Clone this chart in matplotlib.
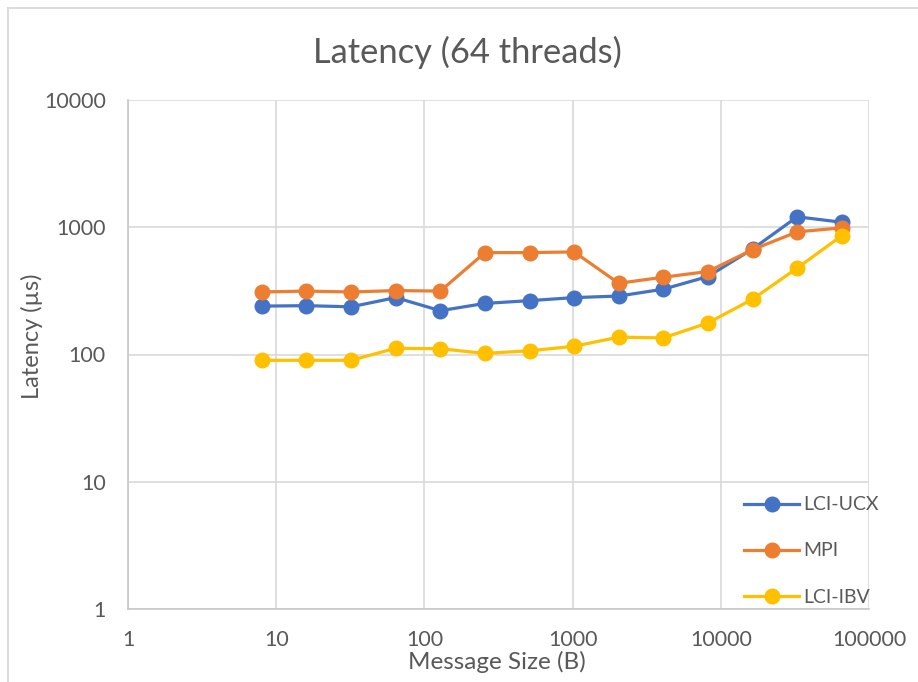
import matplotlib.pyplot as plt
from matplotlib.lines import Line2D

# message sizes in bytes
msg_sizes = [8, 16, 32, 64, 128, 256, 512, 1024, 2048, 4096, 8192, 16384, 32768, 65536]

# latency in microseconds
lci_ucx = [240, 242, 237, 280, 221, 252, 265, 280, 288, 326, 410, 675, 1208, 1095]
mpi = [310, 315, 310, 318, 315, 632, 632, 640, 363, 405, 449, 667, 920, 990]
lci_ibv = [90, 90, 90, 112, 111, 102, 107, 116, 137, 135, 177, 272, 478, 859]

series_names = ["LCI-UCX", "MPI", "LCI-IBV"]
series_colors = ["#4472C4", "#ED7D31", "#FFC000"]

x_ticks = [1, 10, 100, 1000, 10000, 100000]
y_ticks = [1, 10, 100, 1000, 10000]

plt.rcParams["font.family"] = ["Lato", "DejaVu Sans"]
text_color = "#595959"
grid_color = "#d9d9d9"

W, H = 918, 682
fig = plt.figure(figsize=(W / 100, H / 100), dpi=100)
fig.patch.set_facecolor("white")

# plot area in pixels: x 128..869, y 100..609
ax = fig.add_axes([128 / W, 1 - 609 / H, (869 - 128) / W, (609 - 100) / H])

for vals, name, col in zip([lci_ucx, mpi, lci_ibv], series_names, series_colors):
    ax.plot(msg_sizes, vals, color=col, lw=2.3, marker="o", markersize=10.5,
            label=name, zorder=3, clip_on=False)

ax.set_xscale("log")
ax.set_yscale("log")
ax.set_xlim(1, 100000)
ax.set_ylim(1, 10000)

ax.set_xticks(x_ticks)
ax.set_xticklabels([str(t) for t in x_ticks])
ax.set_yticks(y_ticks)
ax.set_yticklabels([str(t) for t in y_ticks])
ax.minorticks_off()
ax.tick_params(axis="both", length=0, labelsize=15.5, colors=text_color)
ax.tick_params(axis="y", pad=16)
ax.tick_params(axis="x", pad=15)

ax.grid(True, color=grid_color, lw=1.2, zorder=0)
ax.set_axisbelow(True)
for side in ["top", "right"]:
    ax.spines[side].set_visible(False)
for side in ["left", "bottom"]:
    ax.spines[side].set_color("#c8c8c8")
    ax.spines[side].set_linewidth(1.2)

# titles and labels
fig.text(467 / W, 1 - 52 / H, "Latency (64 threads)", ha="center", va="center",
         fontsize=24.8, color=text_color)
fig.text(32 / W, 1 - 336 / H, "Latency (µs)", ha="center", va="center",
         rotation=90, fontsize=17, color=text_color)
fig.text(497 / W, 1 - 662 / H, "Message Size (B)", ha="center", va="center",
         fontsize=17.5, color=text_color)

leg = ax.legend(loc="center left", bbox_to_anchor=(744 / W, 1 - 551 / H),
                bbox_transform=fig.transFigure, frameon=False, fontsize=14,
                handlelength=2.83, handletextpad=0.2, labelspacing=1.5,
                borderpad=0, borderaxespad=0)
for t in leg.get_texts():
    t.set_color(text_color)

# outer chart border (top and left visible in the crop)
fig.add_artist(Line2D([8 / W, 1], [1 - 8 / H, 1 - 8 / H], transform=fig.transFigure,
                      color=grid_color, lw=1.3))
fig.add_artist(Line2D([8 / W, 8 / W], [0, 1 - 8 / H], transform=fig.transFigure,
                      color=grid_color, lw=1.3))

fig.savefig("out.png", dpi=100, facecolor="white")
